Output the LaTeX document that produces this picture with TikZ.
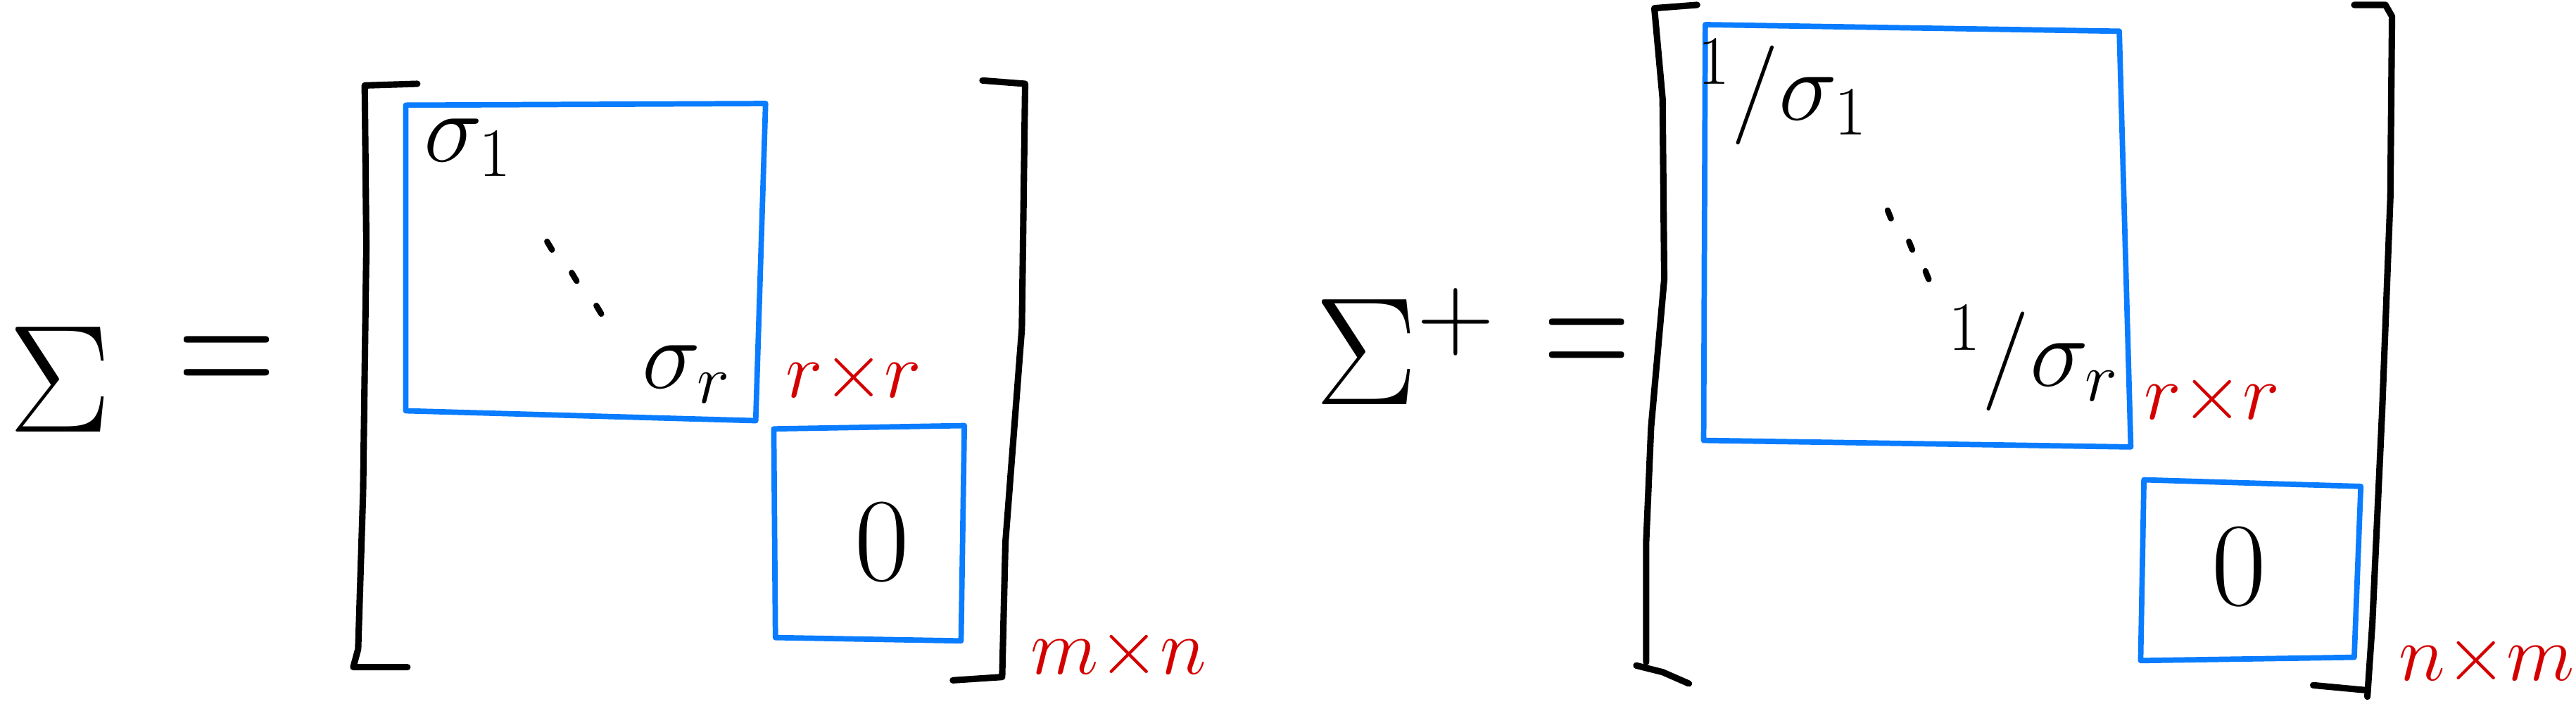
\RequirePackage{fix-cm}
\documentclass[tikz,border=0pt]{standalone}
\usepackage{xcolor}
\usepackage{amsmath}
\usepackage{tikz}
\usetikzlibrary{positioning,calc}
\definecolor{ink}{HTML}{000000}
\definecolor{penblue}{HTML}{0A7CFF}
\definecolor{penred}{HTML}{D40000}
\tikzset{
  bracket/.style={draw=ink,line width=2.6pt,line cap=round,line join=round},
  blockline/.style={draw=penblue,line width=2.2pt,line cap=round,line join=round},
  dotmark/.style={draw=ink,line width=2.4pt,line cap=round},
  entry/.style={inner sep=0pt,font=\fontsize{40}{40}\selectfont},
  bigsym/.style={inner sep=0pt,font=\fontsize{62}{62}\selectfont},
  eqsign/.style={inner sep=0pt,font=\fontsize{44}{44}\selectfont},
  dimlabel/.style={inner sep=0pt,text=penred,font=\fontsize{32}{32}\selectfont}
}

\begin{document}
\begin{tikzpicture}[x=0.02334cm,y=-0.02334cm]
  \useasboundingbox (0,0) rectangle (1568,428);

  % Sigma = [ ... ]
  \node[bigsym,anchor=base west] (sig) at (5,263) {$\Sigma$};
  \node[eqsign] (eq) at (138,225) {\scalebox{1.25}[1.7]{$=$}};
  \draw[bracket] (254,51) -- (222,52) -- (223,150) -- (221,300) -- (218,395) -- (215,406) -- (248,406);
  \draw[bracket] (598,49) -- (624,51) -- (622,200) -- (612,330) -- (610,412) -- (580,414);
  \draw[blockline] (247,64) -- (466,63) -- (460,256) -- (247,250) -- cycle;
  \draw[blockline] (471,261) -- (587,259) -- (585,390) -- (472,388) -- cycle;
  \node[entry] (s1) at (285,90) {$\sigma_{1}$};
  \draw[dotmark] (333,147) -- (336,152);
  \draw[dotmark] (348,166) -- (351,171);
  \draw[dotmark] (363,186) -- (366,191);
  \node[entry] (sr) at (418,228) {$\sigma_{r}$};
  \node[entry,font=\fontsize{48}{48}\selectfont] (zero) at (537,330) {$0$};
  \node[dimlabel,anchor=west] (rr) at (478,230) {$r{\times}r$};
  \node[dimlabel,anchor=west] (mn) at (627,398) {$m{\times}n$};

  % Sigma^+ = [ ... ]
  \node[bigsym,anchor=base west] (sigp) at (800,246) {$\Sigma^{+}$};
  \node[eqsign] (eqp) at (966,214) {\scalebox{1.1}[1.7]{$=$}};
  \draw[bracket] (1033,3) -- (1007,5) -- (1012,60) -- (1013,170) -- (1005,260) -- (1002,330) -- (1002,403);
  \draw[bracket] (996,405) -- (1012,409) -- (1028,416);
  \draw[bracket] (1433,3) -- (1452,3) -- (1456,10) -- (1455,120) -- (1450,250) -- (1444,380) -- (1441,424);
  \draw[bracket] (1408,417) -- (1440,420);
  \draw[blockline] (1038,15) -- (1290,19) -- (1297,272) -- (1037,268) -- cycle;
  \draw[blockline] (1305,292) -- (1437,296) -- (1433,400) -- (1303,402) -- cycle;
  \node[entry] (is1) at (1085,56) {${}^{1}/\sigma_{1}$};
  \draw[dotmark] (1149,128) -- (1151,133);
  \draw[dotmark] (1162,147) -- (1164,152);
  \draw[dotmark] (1172,165) -- (1174,170);
  \node[entry] (isr) at (1238,218) {${}^{1}/\sigma_{r}$};
  \node[entry,font=\fontsize{48}{48}\selectfont] (zerop) at (1363,345) {$0$};
  \node[dimlabel,anchor=west] (rrp) at (1305,243) {$r{\times}r$};
  \node[dimlabel,anchor=west] (nm) at (1460,402) {$n{\times}m$};
\end{tikzpicture}
\end{document}
